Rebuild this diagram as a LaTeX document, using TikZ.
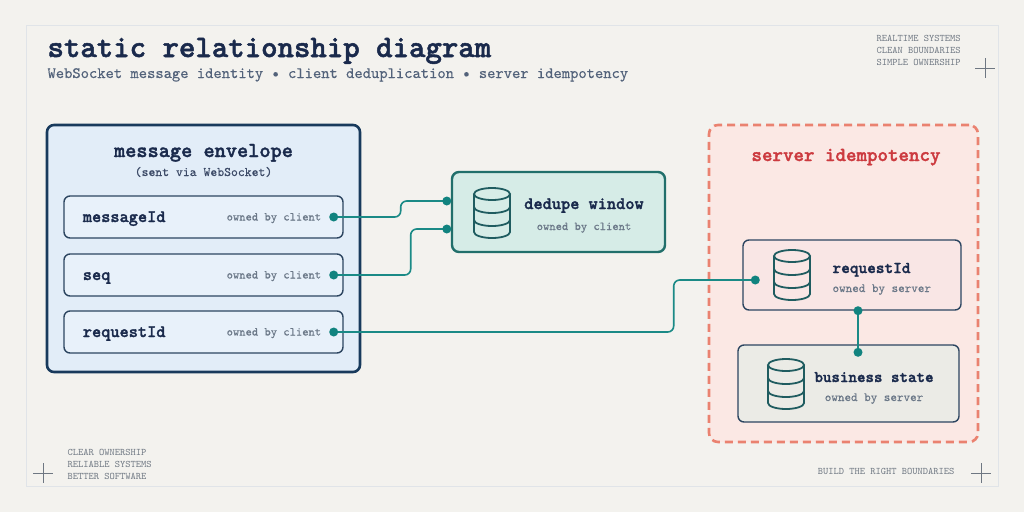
\documentclass[tikz,border=0pt]{standalone}
\usepackage{fontspec}
\setmonofont{lmmono10-regular.otf}[FakeBold=0.4, BoldFont=lmmonolt10-bold.otf, BoldFeatures={FakeBold=1.6}]
\newfontfamily\cornerfont{lmmono10-regular.otf}
\definecolor{paper}{HTML}{F3F2EE}
\definecolor{frameline}{HTML}{E0E4E8}
\definecolor{navy}{HTML}{1A2A4C}
\definecolor{subgray}{HTML}{52627A}
\definecolor{ownergray}{HTML}{6B7888}
\definecolor{cornergray}{HTML}{6E7782}
\definecolor{envline}{HTML}{183A5C}
\definecolor{envfill}{HTML}{E2EDF8}
\definecolor{fieldline}{HTML}{2C4560}
\definecolor{fieldfill}{HTML}{E8F1FA}
\definecolor{tealline}{HTML}{1A8A86}
\definecolor{tealdot}{HTML}{11837F}
\definecolor{winfill}{HTML}{D6ECE7}
\definecolor{winline}{HTML}{216F6B}
\definecolor{iconline}{HTML}{1F5C60}
\definecolor{srvline}{HTML}{EA8270}
\definecolor{srvfill}{HTML}{FBE8E4}
\definecolor{srvtitle}{HTML}{CC3A3F}
\definecolor{reqfill}{HTML}{F9E6E5}
\definecolor{statefill}{HTML}{EBEBE6}
\tikzset{dbicon/.pic={
  \draw[icon] (0,-19) ellipse [x radius=18pt, y radius=6pt];
  \draw[icon] (-18,-19) -- (-18,19) arc [start angle=180, end angle=360, x radius=18pt, y radius=6pt] -- (18,-19);
  \draw[icon] (-18,-6) arc [start angle=180, end angle=360, x radius=18pt, y radius=6pt];
  \draw[icon] (-18,7) arc [start angle=180, end angle=360, x radius=18pt, y radius=6pt];
}}
\begin{document}
\begin{tikzpicture}[x=1pt,y=-1pt,
  icon/.style={draw=iconline, line width=1.8pt},
  field/.style={draw=fieldline, fill=fieldfill, line width=1.4pt, rounded corners=6pt, minimum width=279pt, minimum height=42pt},
  fieldname/.style={text=navy, font=\ttfamily\bfseries\fontsize{17.5}{20}\selectfont},
  owner/.style={text=ownergray, font=\ttfamily\fontsize{12}{14}\selectfont},
  heading/.style={text=navy, font=\ttfamily\bfseries\fontsize{17.5}{20}\selectfont},
  corner/.style={text=cornergray, font=\cornerfont\fontsize{10}{12}\selectfont},
  link/.style={draw=tealline, line width=1.6pt, rounded corners=6pt},
  dot/.style={circle, fill=tealdot, inner sep=0pt, minimum size=9pt},
]
% paper and frame
\fill[paper] (0,0) rectangle (1024,512);
\draw[frameline, line width=0.6pt] (26,25) rectangle (998,486);
\foreach \cx/\cy in {43/473, 981/473, 985/68}
{
    \draw[cornergray, line width=0.6pt] (\cx-10,\cy) -- (\cx+10,\cy) (\cx,\cy-10) -- (\cx,\cy+10);
}

% title block
\node (title) at (44,57)[anchor=base west, text=navy, font=\ttfamily\bfseries\fontsize{31.3}{34}\selectfont]{static relationship diagram};
\node (subtitle) at (44,78)[anchor=base west, text=subgray, font=\ttfamily\fontsize{15.8}{18}\selectfont]{WebSocket message identity • client deduplication • server idempotency};
\node (tr1) at (873,41)[corner, anchor=base west]{REALTIME SYSTEMS};
\node (tr2) at (873,53)[corner, anchor=base west]{CLEAN BOUNDARIES};
\node (tr3) at (873,65)[corner, anchor=base west]{SIMPLE OWNERSHIP};
\node (bl1) at (64,455)[corner, anchor=base west]{CLEAR OWNERSHIP};
\node (bl2) at (64,467)[corner, anchor=base west]{RELIABLE SYSTEMS};
\node (bl3) at (64,479)[corner, anchor=base west]{BETTER SOFTWARE};
\node (br) at (958,474)[corner, anchor=base east]{BUILD THE RIGHT BOUNDARIES};

% message envelope
\node (env) at (203.5,248.5)[draw=envline, fill=envfill, line width=2.6pt, rounded corners=7pt, minimum width=313pt, minimum height=247pt]{};
\node (envtitle) at (203.5,157)[anchor=base, text=navy, font=\ttfamily\bfseries\fontsize{21.3}{24}\selectfont]{message envelope};
\node (envsub) at (203.5,176)[anchor=base, text=navy!85, font=\ttfamily\fontsize{13.1}{15}\selectfont]{(sent via WebSocket)};
\foreach \name/\label/\y in {mid/messageId/217, seq/seq/275, rid/requestId/332}
{
    \node (\name) at (203.5,\y)[field]{};
    \node (\name-label) at ([xshift=16pt,yshift=-5pt]\name.west)[fieldname, anchor=base west]{\label};
    \node (\name-owner) at ([xshift=-19pt,yshift=-3.5pt]\name.east)[owner, anchor=base east]{owned by client};
    \coordinate (\name-end) at ([xshift=-10pt]\name.east);
}

% dedupe window
\node (win) at (558.5,212)[draw=winline, fill=winfill, line width=2.4pt, rounded corners=7pt, minimum width=213pt, minimum height=80pt]{};
\pic at (492,213) {dbicon};
\node (wintitle) at (584,209)[heading, anchor=base]{dedupe window};
\node (winowner) at (584,230)[owner, anchor=base]{owned by client};
\coordinate (win-a) at ([xshift=-4pt,yshift=11pt]win.west);
\coordinate (win-b) at ([xshift=-4pt,yshift=-17pt]win.west);

% server idempotency
\node (srv) at (843.5,283.5)[draw=srvline, fill=srvfill, line width=2.6pt, dash pattern=on 8pt off 5pt, rounded corners=9pt, minimum width=269pt, minimum height=317pt]{};
\node (srvtitle) at (846,161)[anchor=base, text=srvtitle, font=\ttfamily\bfseries\fontsize{20}{23}\selectfont]{server idempotency};
\node (sreq) at (852,275)[draw=fieldline, fill=reqfill, line width=1.4pt, rounded corners=6pt, minimum width=218pt, minimum height=70pt]{};
\pic at (792,275) {dbicon};
\node (sreqname) at (829,273)[fieldname, font=\ttfamily\bfseries\fontsize{16.5}{19}\selectfont, anchor=base west]{requestId};
\node (sreqowner) at (829,292)[owner, font=\ttfamily\fontsize{12.5}{15}\selectfont, anchor=base west]{owned by server};
\node (state) at (848.5,383.5)[draw=fieldline, fill=statefill, line width=1.4pt, rounded corners=6pt, minimum width=221pt, minimum height=77pt]{};
\pic at (786,384) {dbicon};
\node (statename) at (874,382)[fieldname, font=\ttfamily\bfseries\fontsize{16.2}{19}\selectfont, anchor=base]{business state};
\node (stateowner) at (874,401)[owner, font=\ttfamily\fontsize{12.5}{15}\selectfont, anchor=base]{owned by server};
\coordinate (sreq-in) at ([xshift=13pt,yshift=-5pt]sreq.west);
\coordinate (sreq-out) at ([xshift=6pt]sreq.south);
\coordinate (state-in) at ([xshift=9.5pt,yshift=-8pt]state.north);

% connectors
\draw[link] (mid-end) -- ++(67,0) |- (win-a);
\draw[link] (seq-end) -- ++(77,0) |- (win-b);
\draw[link] (rid-end) -- ++(340,0) |- (sreq-in);
\draw[link] (sreq-out) -- (state-in);
\foreach \p in {mid-end, seq-end, rid-end, win-a, win-b, sreq-in, sreq-out, state-in}
{
    \node (\p-dot) at (\p)[dot]{};
}
\end{tikzpicture}
\end{document}
